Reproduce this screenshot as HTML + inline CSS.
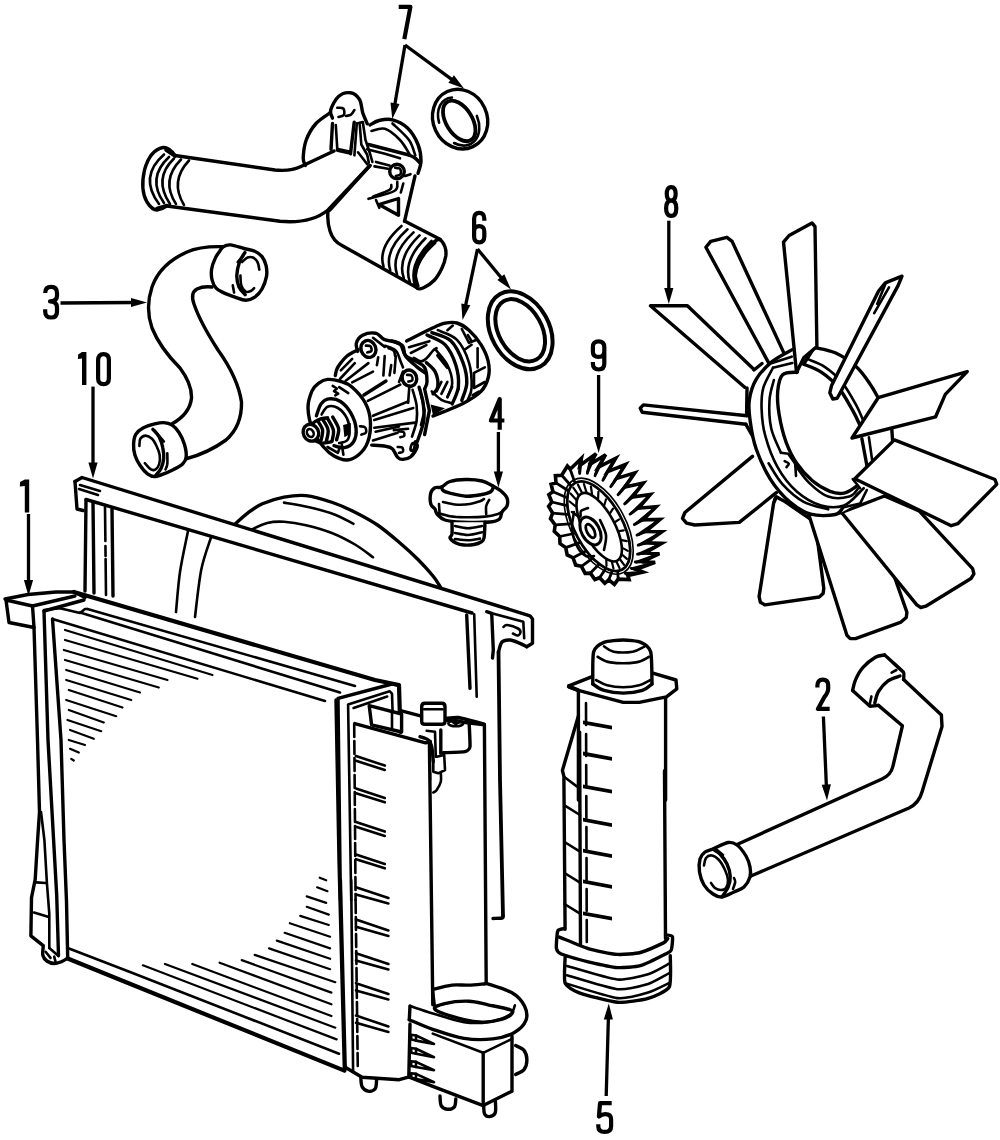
<!DOCTYPE html>
<html><head><meta charset="utf-8"><title>Cooling system diagram</title>
<style>
html,body{margin:0;padding:0;background:#fff;}
body{width:1000px;height:1140px;overflow:hidden;font-family:"Liberation Sans",sans-serif;}
svg{display:block;}
.o{fill:none;stroke:#000;stroke-width:3.4;stroke-linecap:round;stroke-linejoin:round;}
.t{fill:none;stroke:#000;stroke-width:2.6;stroke-linecap:round;stroke-linejoin:round;}
.w{fill:#fff;stroke:#000;stroke-width:3.4;stroke-linecap:round;stroke-linejoin:round;}
.wt{fill:#fff;stroke:#000;stroke-width:2.6;stroke-linecap:round;stroke-linejoin:round;}
.k{fill:#000;stroke:none;}
.h{fill:none;stroke:#000;stroke-width:2.2;stroke-linecap:round;}
.a{fill:none;stroke:#000;stroke-width:2.6;stroke-linecap:butt;}
.d{fill:none;stroke:#000;stroke-width:4.2;stroke-linecap:butt;stroke-linejoin:round;}
</style></head><body>
<svg width="1000" height="1140" viewBox="0 0 1000 1140">
<rect x="0" y="0" width="1000" height="1140" fill="#fff"/>
<!-- 05_frame10.svg -->
<g id="frame10">
<path class="o" d="M234.8,524.2 C237.0,522.3 243.4,516.2 248.0,512.8 C252.6,509.4 256.4,506.4 262.4,503.8 C268.4,501.2 276.7,498.6 284.0,497.2 C291.3,495.8 297.9,494.7 306.0,495.6 C314.1,496.5 324.3,499.7 332.5,502.5 C340.7,505.3 347.5,508.5 355.0,512.2 C362.5,516.0 370.0,519.9 377.5,525.0 C385.0,530.1 393.2,537.2 400.0,543.0 C406.8,548.8 412.5,554.0 418.0,559.5 C423.5,565.0 429.2,571.4 433.0,576.0 C436.8,580.6 439.2,585.4 440.5,587.2"/>
<path class="t" d="M251.6,529.6 C254.2,528.5 261.8,524.3 267.2,523.0 C272.6,521.7 277.5,521.4 284.0,521.8 C290.5,522.2 297.9,523.3 306.0,525.2 C314.1,527.1 324.3,530.0 332.5,533.2 C340.7,536.5 348.2,540.5 355.0,544.5 C361.8,548.5 370.0,555.1 373.0,557.2"/>
<path class="t" d="M284.0,502.6 C288.0,503.3 299.9,505.1 308.0,507.0 C316.1,508.9 324.9,510.9 332.5,513.8 C340.1,516.5 350.0,522.1 353.5,523.8"/>
<path class="t" d="M188.0,531.0 C186.7,537.8 182.0,558.5 180.0,572.0 C178.0,585.5 176.7,605.3 176.0,612.0"/>
<path class="t" d="M210.8,538.0 C209.2,543.3 203.8,556.8 201.2,570.0 C198.6,583.2 196.0,609.2 195.0,617.0"/>
<path class="o" d="M75.0,481.5 L82.0,477.5 L530.0,615.8 L532.5,619.0 L532.5,643.3 L526.7,646.7"/>
<path class="o" d="M75.0,481.5 L77.0,509.0 L83.0,510.5"/>
<path class="o" d="M86.0,499.5 L472.0,613.0"/>
<path class="t" d="M80.0,485.0 L100.0,491.0"/>
<path class="t" d="M79.0,489.0 L98.0,495.0"/>
<path class="o" d="M86.0,500.0 L85.0,591.0"/>
<path class="o" d="M93.0,502.0 L94.0,593.0"/>
<path class="t" stroke-dasharray="34 5 10 3 40 4" d="M105,507 L106,595"/>
<path class="o" d="M112.0,509.0 L113.0,596.0"/>
<path class="o" d="M486.7,611.7 L491.7,613.3 L493.3,650.0 L492.5,658.0"/>
<path class="t" d="M491.7,613.3 L523.3,621.7 L524.2,638.3"/>
<path class="o" d="M526.7,646.7 C525.6,646.1 522.8,644.4 520.0,643.3 C517.2,642.2 513.0,640.2 510.0,640.0 C507.0,639.8 503.9,640.0 502.0,642.0 C500.1,644.0 499.1,650.3 498.5,652.0"/>
<path class="t" d="M503.5,627.0 C504.1,626.7 504.6,624.8 507.0,625.0 C509.4,625.2 515.8,627.3 518.0,628.5 C520.2,629.7 520.5,630.8 520.5,632.0 C520.5,633.2 519.2,635.2 518.0,635.5 C516.8,635.8 513.8,633.8 513.0,633.5"/>
<path class="o" d="M466.7,615.0 L470.0,688.3"/>
<path class="t" d="M474.2,614.2 L476.7,696.7"/>
<path class="o" style="stroke-width:3.8" d="M498.5,652.0 L500.0,780.0 L503.0,916.0"/>
<path class="o" d="M503.0,916.0 C502.8,916.3 503.7,917.6 502.0,918.0 C500.3,918.4 494.5,918.4 493.0,918.5"/>
</g>

<!-- 10_part7.svg -->
<g id="p7">
<!-- left flange -->
<path class="o" d="M175,155.5 Q169,147 163,147.5 Q150,150 144.5,170 Q140,190 147,202 Q152,210 157,210 Q163,209 167,206"/>
<path class="t" d="M164,154.5 Q138.5,176.7 159,204"/>
<path class="t" d="M169,157 Q146.5,178 164,203"/>
<path class="t" d="M174,158.5 Q153,178.7 170,204"/>
<path class="t" d="M181,159.5 Q160.5,180.2 176,204"/>
<path class="t" d="M189,160.5 Q169.5,181.2 184,205"/>
<path class="o" style="stroke-width:3.6" d="M166,150 L175,156"/>
<path class="o" style="stroke-width:3.6" d="M157,208.5 L167,205.5"/>
<!-- pipe body -->
<path class="o" d="M175,155.5 L275,170 Q291,171.5 301,166.5 L334,151"/>
<path class="o" d="M167,206 L280,221.3 Q311,224 328,210 L370,165.5"/>
<!-- down pipe -->
<path class="o" d="M328,211 Q327,222 330,231 Q333,241 342,245.5 L418,288.2"/>
<path class="o" d="M404.5,221 L440.5,239.5"/>
<path class="o" d="M331.0,112.2 C328.5,114.1 320.1,118.9 316.0,123.5 C311.9,128.1 308.4,134.2 306.2,140.0 C304.1,145.8 303.4,153.8 303.2,158.0 C303.1,162.2 305.1,164.2 305.5,165.5"/>
<path class="w" d="M332.5,118.2 C332.2,116.9 329.7,113.6 330.7,110.0 C331.7,106.4 335.2,99.4 338.5,96.5 C341.8,93.6 347.0,92.2 350.5,92.8 C354.0,93.2 357.4,96.1 359.5,99.5 C361.6,102.9 361.5,109.0 362.8,113.0 C364.1,117.0 366.6,122.0 367.3,123.8"/>
<path class="t" d="M337.3,107.8 C338.3,107.9 342.2,107.3 343.3,108.5 C344.4,109.7 344.7,113.4 343.9,114.8 C343.1,116.2 339.4,116.6 338.5,116.9"/>
<path class="t" d="M346.0,116.0 C346.9,115.8 349.9,115.5 351.2,114.5 C352.6,113.5 353.9,110.8 354.4,110.0"/>
<path class="o" d="M332.5,123.5 L331.0,149.3"/>
<path class="t" d="M335.8,125.0 L337.3,149.3"/>
<path class="o" d="M354.2,122.3 L350.5,153.8"/>
<path class="t" d="M356.8,123.5 L354.4,155.3"/>
<path class="o" style="stroke-width:4.4" d="M337.8,149.9 L349.3,152.3"/>
<path class="t" d="M356.8,123.5 L362.8,122.0 L365.5,140.0 L370.0,153.5 L372.4,161.9"/>
<path class="t" d="M359.8,125.0 L361.3,144.5 L367.3,155.0 L368.8,162.8"/>
<path class="t" d="M358.0,152.3 L367.3,164.3"/>
<path class="o" d="M370.0,125.0 C371.5,124.2 375.2,121.4 379.0,120.5 C382.8,119.6 387.8,118.5 392.5,119.8 C397.2,121.0 403.2,123.9 407.5,128.0 C411.8,132.1 415.8,139.0 418.0,144.5 C420.2,150.0 421.0,156.2 421.0,161.0 C421.0,165.8 418.5,171.2 418.0,173.3"/>
<path class="t" d="M371.5,131.0 C373.8,130.6 380.2,127.2 385.0,128.8 C389.8,130.2 395.9,135.8 400.0,140.0 C404.1,144.2 407.8,151.5 409.3,153.8"/>
<path class="t" d="M392.5,123.5 C395.2,126.2 405.2,134.7 409.0,140.0 C412.8,145.3 414.2,152.8 415.3,155.3"/>
<path class="o" d="M368.5,144.5 L409.0,155.0"/>
<path class="o" d="M409.0,155.0 C410.0,155.5 413.2,156.7 415.0,158.0 C416.8,159.3 419.0,162.0 419.8,162.8"/>
<path class="t" d="M367.0,149.3 L385.0,153.8 L400.0,158.3"/>
<circle class="w" cx="397" cy="171.5" r="7.3"/>
<path class="t" d="M395.2,167.8 C396.0,167.9 399.1,167.7 400.0,168.8 C400.9,169.9 401.3,173.0 400.6,174.2 C399.9,175.4 396.6,175.7 395.8,176.0"/>
<path class="t" d="M376.0,161.9 L389.5,165.6"/>
<path class="t" d="M374.5,166.4 L388.0,168.8"/>
<path class="t" d="M405.2,176.0 L410.5,174.2"/>
<path class="o" d="M415.0,176.0 L404.5,221.3"/>
<path class="t" d="M397.3,182.0 C396.8,183.5 399.1,188.2 394.3,191.0 C389.5,193.8 372.8,197.5 368.5,198.8"/>
<path class="t" d="M391.3,185.0 C391.0,185.8 392.6,187.9 389.5,189.8 C386.4,191.7 375.8,195.4 373.0,196.6"/>
<path class="o" d="M398.5,198.5 L379.0,204.5 L398.5,215.3 Z"/>
<path class="t" d="M376.0,200.0 L379.3,207.8"/>
<path class="t" d="M403.3,183.5 L400.8,192.5"/>
<path class="o" d="M370.0,165.5 L329.8,210.2"/>
<!-- down pipe ribbed end -->
<path class="w" d="M439.0,239.5 C441.5,239.8 443.9,244.2 445.0,247.0 C446.1,249.8 446.2,252.5 445.8,256.0 C445.2,259.5 443.9,264.0 442.0,268.0 C440.1,272.0 437.5,276.8 434.5,280.0 C431.5,283.2 426.9,286.1 424.0,287.5 C421.1,288.9 418.8,289.5 417.2,288.2 C415.8,287.0 415.1,283.4 415.0,280.0 C414.9,276.6 415.2,272.2 416.5,268.0 C417.8,263.8 420.2,258.2 422.5,254.5 C424.8,250.8 427.2,248.0 430.0,245.5 C432.8,243.0 436.5,239.2 439.0,239.5 Z"/>
<path class="t" d="M435.2,242.8 C433.6,244.5 428.3,249.3 425.5,253.0 C422.7,256.7 419.9,261.2 418.3,265.0 C416.7,268.8 415.8,272.0 415.8,275.5 C415.8,279.0 417.9,284.2 418.3,286.0"/>
<path class="t" d="M401.5,226.0 Q377.5,247.0 383.5,266.5"/>
<path class="t" d="M407.5,229.3 Q383.9,250.5 390.2,270.2"/>
<path class="t" d="M413.5,232.4 Q390.2,254.1 397.0,274.3"/>
<path class="t" d="M419.5,235.4 Q396.6,257.6 403.8,278.2"/>
<path class="t" d="M425.5,238.3 Q402.6,260.8 409.8,281.8"/>
<path class="t" d="M431.5,241.0 Q408.2,263.9 415.0,285.2"/>
<!-- seal ring -->
<ellipse class="o" cx="460.1" cy="119.1" rx="27" ry="30.4" transform="rotate(-25 460.1 119.1)"/>
<ellipse class="o" style="stroke-width:3.8" cx="459.2" cy="120.9" rx="13" ry="22.5" transform="rotate(-32 459.2 120.9)"/>
<g transform="translate(458.5,121.5) rotate(-30)">
<path class="t" d="M-17.4,-8.7 A18.5,25.5 0 0 1 6.3,-24.0"/>
<path class="t" d="M18.7,4.4 A19.0,25.5 0 0 1 -14.6,16.4"/>
</g>
</g>

<!-- 20_hose3.svg -->
<g id="hose3">
<path class="o" d="M223.5,246.7 Q200,246 187,252 Q160,264 152,287 Q145,308 152,328 Q160,348 180,368 Q192,384 191.5,398 Q190,414 171,424.5"/>
<path class="o" d="M212,287 Q203,286 197,289 Q190,293 194,304 Q200,322 218,350 Q238,378 241.5,402 Q242,426 226,440 Q208,453 187,458.5"/>
<path class="w" d="M223.3,246.7 C225.1,245.6 227.1,244.6 230.5,244.9 C233.9,245.2 239.9,247.4 244.0,248.5 C248.1,249.6 251.8,249.8 254.8,251.2 C257.8,252.5 260.1,254.2 262.0,256.6 C263.9,259.0 265.3,262.3 266.1,265.6 C266.8,268.9 267.2,272.5 266.5,276.4 C265.8,280.3 263.9,285.6 262.0,289.0 C260.1,292.4 257.5,295.2 254.8,297.1 C252.1,299.0 249.1,300.2 245.8,300.2 C242.5,300.2 238.8,298.4 235.0,297.1 C231.2,295.8 226.5,294.1 223.3,292.6 C220.2,291.1 218.0,290.2 216.1,288.1 C214.2,286.0 212.8,283.1 212.1,280.0 C211.3,276.9 211.1,272.8 211.6,269.2 C212.1,265.6 213.8,261.4 215.2,258.4 C216.5,255.4 218.3,253.1 219.7,251.2 C221.0,249.2 221.5,247.8 223.3,246.7 Z"/>
<path class="o" d="M244.9,252.6 C244.0,254.1 240.8,258.2 239.5,262.0 C238.2,265.8 236.9,271.3 236.8,275.5 C236.7,279.7 237.7,284.0 239.1,287.2 C240.4,290.4 244.1,293.3 245.1,294.6"/>
<path class="t" d="M242.2,262.0 C243.1,261.2 245.8,258.2 247.6,257.5 C249.4,256.8 251.3,256.8 253.0,257.5 C254.7,258.2 256.4,260.0 257.5,262.0 C258.6,264.0 259.0,268.4 259.3,269.6"/>
<path class="t" d="M240.4,275.5 C240.6,277.1 240.4,282.7 241.3,285.4 C242.2,288.1 244.2,290.8 245.8,291.7 C247.5,292.6 249.8,291.4 251.2,290.8 C252.6,290.2 253.6,288.6 254.1,288.1"/>
<path class="t" d="M237.7,262.0 L243.1,255.9"/>
<path class="t" d="M232.8,285.4 L234.1,292.6"/>
<path class="w" d="M135.8,434.3 C137.4,431.6 139.8,429.7 143.0,428.0 C146.2,426.3 151.2,424.8 154.7,423.9 C158.1,423.1 160.8,422.5 163.7,422.6 C166.5,422.8 169.2,423.2 171.8,424.9 C174.4,426.5 176.9,429.3 179.0,432.5 C181.1,435.7 183.2,440.1 184.4,444.2 C185.6,448.2 186.5,453.5 186.2,456.8 C185.9,460.1 184.7,461.9 182.6,464.0 C180.5,466.1 176.8,467.8 173.6,469.4 C170.4,471.0 166.8,472.7 163.7,473.9 C160.5,475.1 157.4,476.6 154.7,476.6 C152.0,476.6 149.9,475.7 147.5,473.9 C145.1,472.1 142.4,468.9 140.3,465.8 C138.2,462.7 136.0,458.6 134.9,455.0 C133.8,451.4 133.4,447.6 133.6,444.2 C133.7,440.8 134.2,437.0 135.8,434.3 Z"/>
<path class="o" d="M152.9,429.4 C153.9,430.6 157.5,433.9 159.2,437.0 C160.8,440.1 162.1,444.2 162.8,447.8 C163.6,451.4 164.0,455.2 163.7,458.6 C163.4,462.1 162.3,465.7 161.0,468.5 C159.7,471.3 156.5,474.3 155.6,475.5"/>
<path class="t" d="M139.4,446.0 C139.6,444.8 139.2,440.5 140.3,438.8 C141.4,437.1 143.8,435.6 145.7,435.6 C147.6,435.6 150.2,437.1 152.0,438.8 C153.8,440.5 155.2,443.3 156.5,446.0 C157.8,448.7 159.2,452.0 159.7,455.0 C160.1,458.0 159.9,461.6 159.2,464.0 C158.5,466.4 156.9,468.5 155.6,469.4 C154.2,470.3 152.9,470.4 151.1,469.4 C149.3,468.3 145.9,464.2 144.8,463.1"/>
<path class="t" d="M154.7,430.7 L163.9,441.5"/>
<path class="t" d="M167.3,453.2 C167.3,455.0 167.6,461.3 167.3,464.0 C167.0,466.7 165.8,468.5 165.5,469.4"/>
</g>

<!-- 30_pump.svg -->
<g id="pump">
<path class="w" d="M327.5,379.4 C331.2,379.1 336.4,380.1 340.5,381.4 C344.6,382.7 348.1,383.6 352.2,387.2 C356.3,390.8 362.2,397.2 365.2,402.8 C368.2,408.4 370.0,414.5 370.4,421.0 C370.8,427.5 369.8,436.2 367.8,441.8 C365.9,447.4 362.2,451.8 358.7,454.8 C355.2,457.8 351.1,459.8 347.0,460.0 C342.9,460.2 337.9,458.3 334.0,456.1 C330.1,453.9 327.1,451.1 323.6,447.0 C320.1,442.9 315.8,437.9 313.2,431.4 C310.6,424.9 308.2,414.7 308.0,408.0 C307.8,401.3 310.2,395.2 311.9,391.1 C313.6,387.0 315.8,385.2 318.4,383.3 C321.0,381.4 323.8,379.7 327.5,379.4 Z"/>
<path class="o" d="M316.4,415.8 C317.2,413.9 318.9,406.9 321.0,404.1 C323.1,401.3 325.6,399.3 328.8,398.9 C332.1,398.5 336.8,399.1 340.5,401.5 C344.2,403.9 348.3,408.6 350.9,413.2 C353.5,417.8 355.7,424.0 356.1,428.8 C356.5,433.6 355.4,438.7 353.5,441.8 C351.6,444.9 347.6,447.0 344.4,447.6 C341.1,448.3 335.7,446.0 334.0,445.7"/>
<path class="t" d="M321.6,414.5 C322.6,413.2 324.8,407.8 327.5,406.7 C330.2,405.6 334.6,406.1 337.9,408.0 C341.1,409.9 345.1,414.5 347.0,418.4 C348.9,422.3 349.6,427.7 349.6,431.4 C349.6,435.1 348.7,438.6 347.0,440.5 C345.3,442.4 340.5,442.7 339.2,443.1"/>
<path class="w" d="M309.3,425.6 C310.8,424.6 315.4,421.0 318.4,419.7 C321.4,418.4 326.0,418.1 327.5,417.8"/>
<path class="o" d="M314.5,440.5 C315.8,440.9 319.5,442.9 322.3,443.1 C325.1,443.3 329.9,442.0 331.4,441.8"/>
<path class="o" d="M317.8,421.0 C318.6,422.5 322.0,426.9 322.6,430.1 C323.1,433.4 321.3,438.8 321.0,440.5"/>
<path class="o" d="M322.9,419.7 C323.8,421.4 327.6,426.4 328.1,430.1 C328.7,433.8 326.5,439.9 326.2,441.8"/>
<path class="o" d="M327.5,418.4 C328.5,420.3 332.6,426.3 333.4,430.1 C334.1,433.9 332.3,439.3 332.1,441.1"/>
<path class="o" d="M332.7,417.1 C333.7,419.1 337.9,425.0 338.6,428.8 C339.2,432.6 336.9,438.0 336.6,439.9"/>
<ellipse class="w" cx="310.9" cy="432.7" rx="7.6" ry="8.6" transform="rotate(-27.0 310.9 432.7)"/>
<ellipse class="t" cx="310.3" cy="433.0" rx="3.2" ry="4.2" transform="rotate(-27.0 310.3 433.0)"/>
<path class="k" d="M343.1,424.9 L350.9,422.9 L350.2,434.0 L344.4,437.2 Z"/>
<path class="t" d="M327.5,447.0 L337.9,452.9 L339.9,447.0"/>
<path class="t" d="M341.8,444.4 L343.4,454.8"/>
<path class="t" d="M332.7,385.9 L336.9,388.5 L334.0,391.1 L338.2,393.7 L335.3,395.3"/>
<path class="t" d="M339.2,387.2 L348.3,393.1"/>
<path class="t" d="M360.0,426.2 C360.9,426.4 364.2,426.4 365.2,427.5 C366.2,428.6 366.5,431.5 365.9,432.7 C365.2,433.9 362.1,434.3 361.3,434.6"/>
<path class="o" d="M335.3,375.5 C335.6,374.4 335.9,371.2 336.9,369.0 C337.8,366.8 339.5,364.7 341.1,362.5 C342.8,360.3 344.9,357.7 347.0,356.0 C349.1,354.3 351.7,353.1 353.5,352.1 C355.3,351.1 357.3,350.1 358.1,349.8"/>
<path class="t" d="M340.8,370.3 L352.2,358.9"/>
<path class="t" d="M339.9,379.0 L354.8,363.1"/>
<path class="t" d="M345.7,380.7 L368.4,363.1"/>
<path class="t" d="M352.2,382.3 L373.0,371.6"/>
<path class="o" style="stroke-width:3.4" d="M363.9,395.0 L386.0,381.0"/>
<path class="t" d="M367.8,400.9 L400.3,384.6"/>
<path class="t" d="M373.0,415.8 L408.1,401.5"/>
<path class="t" d="M374.3,420.0 L413.3,408.0"/>
<path class="t" d="M374.3,427.8 L415.2,422.6"/>
<path class="t" d="M375.6,431.7 L399.0,426.5"/>
<path class="t" d="M373.0,440.5 L397.7,432.7"/>
<path class="o" d="M371.7,445.1 C374.1,445.3 382.5,445.7 386.0,446.4 C389.5,447.0 390.6,447.1 392.5,448.9 C394.4,450.8 396.0,455.7 397.7,457.4 C399.4,459.1 400.7,459.5 402.9,459.4 C405.1,459.2 408.3,458.8 410.7,456.8 C413.1,454.7 416.4,449.5 417.2,447.0 C418.0,444.5 415.6,442.7 415.2,441.8"/>
<ellipse class="t" cx="412.6" cy="447.0" rx="1.8" ry="4.0" transform="rotate(15.0 412.6 447.0)"/>
<path class="t" d="M397.7,447.0 C398.5,447.1 401.4,446.9 402.2,447.6 C403.1,448.4 403.4,450.7 402.9,451.6 C402.4,452.4 399.6,452.6 399.0,452.9"/>
<path class="t" d="M399.0,431.4 C399.8,431.5 402.7,431.3 403.6,432.1 C404.4,432.8 404.7,435.1 404.2,435.9 C403.7,436.8 400.9,437.0 400.3,437.2"/>
<path class="t" d="M393.8,430.1 L408.1,428.8"/>
<path class="o" d="M357.7,351.4 C357.4,350.0 355.5,345.7 356.4,343.0 C357.2,340.3 359.4,336.8 362.6,335.2 C365.8,333.6 372.0,332.6 375.6,333.2 C379.2,333.9 381.0,338.0 384.1,339.4 C387.1,340.8 390.7,340.6 393.8,341.7 C396.9,342.8 400.9,343.9 402.9,346.2 C404.8,348.6 403.1,352.5 405.5,356.0 C407.9,359.5 413.7,364.1 417.2,367.1 C420.7,370.0 424.8,372.5 426.3,373.6"/>
<ellipse class="w" cx="368.4" cy="348.9" rx="7.4" ry="8.6" transform="rotate(-20.0 368.4 348.9)"/>
<path class="t" d="M365.9,345.6 C366.6,345.7 369.5,345.4 370.4,346.2 C371.3,347.1 372.0,349.8 371.4,350.8 C370.9,351.8 368.0,352.1 367.3,352.4"/>
<path class="t" d="M373.0,337.8 L384.7,346.9"/>
<path class="t" d="M384.7,356.0 L383.4,375.5"/>
<path class="t" d="M391.2,365.1 L389.6,375.5"/>
<path class="t" d="M395.8,356.0 L394.4,372.9"/>
<path class="t" d="M378.2,357.3 L376.9,365.1"/>
<path class="t" d="M388.6,348.2 C389.5,348.6 392.7,349.5 393.8,350.8 C394.9,352.1 394.9,355.1 395.1,356.0"/>
<ellipse class="w" cx="409.4" cy="378.1" rx="7.2" ry="8.2" transform="rotate(-20.0 409.4 378.1)"/>
<path class="t" d="M407.1,374.9 C407.8,375.0 410.5,374.6 411.4,375.5 C412.2,376.4 412.8,379.0 412.3,380.1 C411.8,381.1 409.0,381.4 408.4,381.6"/>
<path class="t" d="M402.9,371.6 L399.0,382.0"/>
<path class="o" d="M419.1,387.2 C419.8,389.8 422.3,397.2 423.1,402.8 C423.8,408.4 424.7,414.5 423.7,421.0 C422.7,427.5 418.3,438.3 417.2,441.8"/>
<path class="t" d="M412.6,389.8 C413.3,392.4 415.9,400.2 416.6,405.4 C417.2,410.6 417.3,415.8 416.6,421.0 C415.8,426.2 412.8,434.0 412.0,436.6"/>
<path class="t" d="M409.4,385.9 L408.1,402.8"/>
<path class="o" d="M406.6,341.0 C411.0,338.8 426.6,330.8 433.0,327.8 C439.4,324.8 441.0,324.0 445.0,323.2 C449.0,322.4 453.0,321.8 457.0,323.0 C461.0,324.2 465.0,326.6 469.0,330.2 C473.0,333.8 477.8,339.4 481.0,344.6 C484.2,349.8 487.0,356.0 488.2,361.4 C489.4,366.8 489.6,372.0 488.4,377.0 C487.2,382.0 485.2,387.0 481.0,391.4 C476.8,395.8 471.0,399.3 463.0,403.4 C455.0,407.5 438.0,413.9 433.0,416.0"/>
<path class="o" d="M431.8,332.6 C435.0,334.0 445.8,336.0 451.0,341.0 C456.2,346.0 460.4,355.6 463.0,362.6 C465.6,369.6 467.0,376.7 466.8,383.0 C466.6,389.3 462.6,397.5 461.8,400.4"/>
<path class="t" d="M437.8,330.2 C441.0,331.8 451.8,334.4 457.0,339.8 C462.2,345.2 466.6,354.6 469.0,362.6 C471.4,370.6 471.8,381.6 471.6,387.8 C471.4,394.0 468.4,397.8 467.8,399.8"/>
<path class="o" d="M427.0,335.0 C430.0,336.6 440.2,339.6 445.0,344.6 C449.8,349.6 453.6,358.0 455.8,365.0 C458.0,372.0 459.0,380.1 458.4,386.6 C457.8,393.1 453.2,401.1 452.2,404.0"/>
<path class="t" d="M435.4,349.4 C437.4,352.0 444.6,359.4 447.4,365.0 C450.2,370.6 452.2,377.7 452.2,383.0 C452.2,388.3 448.2,394.5 447.4,396.8"/>
<path class="t" d="M447.4,330.2 L452.8,325.6"/>
<path class="t" d="M461.8,329.0 L469.0,342.8 L476.8,339.8"/>
<path class="t" d="M464.2,350.0 L471.6,344.8"/>
<path class="t" d="M477.6,348.2 L477.6,367.4"/>
<path class="t" d="M474.0,372.8 L484.8,367.4"/>
<path class="t" d="M474.0,373.4 L474.0,388.0 L484.8,382.0"/>
<path class="t" d="M472.6,395.2 L478.8,391.6"/>
<path class="t" d="M467.8,335.0 L471.4,341.0"/>
<path class="t" d="M409.0,347.2 L429.4,341.2"/>
<path class="t" d="M410.8,353.0 L426.4,345.2"/>
<path class="t" d="M413.8,357.8 C415.0,358.4 418.8,361.4 421.0,361.4 C423.2,361.4 425.0,359.6 427.0,357.8 C429.0,356.0 431.4,352.2 433.0,350.6 C434.6,349.0 436.0,348.6 436.6,348.2"/>
<path class="o" d="M426.4,362.6 C427.9,364.2 433.5,368.2 435.4,372.2 C437.3,376.2 438.2,383.0 437.8,386.6 C437.4,390.2 433.8,392.6 433.0,393.8"/>
<path class="t" d="M431.8,391.4 C433.4,392.8 438.0,397.8 441.4,399.8 C444.8,401.8 450.4,402.8 452.2,403.4"/>
<path class="o" style="stroke-width:3.4" d="M437.8,355.4 L447.4,367.4"/>
<path class="t" d="M441.4,381.8 L436.6,391.4"/>
<path class="t" d="M447.4,381.8 L441.4,393.8"/>
<path class="t" d="M452.2,386.6 L447.4,397.4"/>
<path class="k" d="M430.6,404.6 L445.0,408.2 L433.0,415.4 Z"/>
<path class="t" d="M458.2,381.8 L458.8,389.0"/>
<path class="o" d="M392.2,341.0 C393.6,341.6 398.4,342.2 400.6,344.6 C402.8,347.0 402.8,352.6 405.4,355.4 C408.0,358.2 413.0,359.4 416.2,361.4 C419.4,363.4 422.8,364.0 424.6,367.4 C426.4,370.8 427.0,378.2 427.0,381.8 C427.0,385.4 425.0,387.8 424.6,389.0"/>
<path class="t" d="M385.0,345.8 C386.8,346.6 393.2,348.0 395.8,350.6 C398.4,353.2 399.4,358.6 400.6,361.4 C401.8,364.2 402.6,366.4 403.0,367.4"/>
<path class="o" d="M424.6,389.0 L429.4,410.6 L424.6,434.6"/>
<path class="t" d="M419.8,389.0 L424.6,410.6 L421.0,425.0"/>
</g>

<!-- 40_cap4.svg -->
<g id="cap4">
<path class="w" d="M441.5,487.0 C444.0,485.9 445.9,482.8 450.0,481.5 C454.1,480.2 460.7,479.6 466.0,479.5 C471.3,479.4 477.5,479.9 482.0,481.0 C486.5,482.1 489.8,484.3 493.0,486.0 C496.2,487.7 498.7,489.0 501.0,491.0 C503.3,493.0 506.0,495.5 507.0,498.0 C508.0,500.5 507.8,503.7 507.0,506.0 C506.2,508.3 503.2,509.8 502.0,512.0 C500.8,514.2 501.5,517.3 499.5,519.0 C497.5,520.7 496.2,521.5 490.0,522.0 C483.8,522.5 469.5,522.5 462.0,522.2 C454.5,521.9 449.2,521.4 445.0,520.0 C440.8,518.6 438.7,515.8 437.0,514.0 C435.3,512.2 436.0,510.7 435.0,509.0 C434.0,507.3 431.5,506.7 430.8,504.0 C430.1,501.3 430.1,495.7 430.8,493.0 C431.5,490.3 433.2,488.8 435.0,487.8 C436.8,486.8 439.0,488.1 441.5,487.0 Z"/>
<path class="o" d="M441.5,487.0 C441.8,487.6 441.6,489.5 443.0,490.5 C444.4,491.5 446.2,492.2 450.0,493.2 C453.8,494.1 460.7,496.0 466.0,496.2 C471.3,496.4 477.8,495.3 482.0,494.5 C486.2,493.7 489.1,492.8 491.0,491.5 C492.9,490.2 493.1,487.3 493.5,486.5"/>
<path class="t" d="M443.0,502.0 C445.0,502.4 450.5,504.2 455.0,504.5 C459.5,504.8 465.8,504.6 470.0,504.0 C474.2,503.4 477.7,502.0 480.0,501.2 C482.3,500.4 483.3,499.4 484.0,499.0"/>
<path class="t" d="M489.2,499.8 C488.7,500.8 486.7,503.6 486.2,506.0 C485.7,508.4 486.2,512.7 486.2,514.0"/>
<path class="t" d="M438.0,513.0 C440.0,513.5 445.5,515.5 450.0,516.2 C454.5,516.9 459.2,517.1 465.0,517.2 C470.8,517.3 479.5,517.1 485.0,516.6 C490.5,516.1 495.0,514.9 498.0,514.0 C501.0,513.1 502.2,511.5 503.0,511.0"/>
<path class="t" d="M439.0,504.0 L439.5,512.0"/>
<path class="w" d="M452.0,522.2 C452.0,524.2 452.3,531.4 452.0,534.0 C451.7,536.6 449.3,536.5 450.0,538.0 C450.7,539.5 453.7,541.8 456.0,543.0 C458.3,544.2 461.0,544.8 464.0,545.0 C467.0,545.2 471.2,545.0 474.0,544.5 C476.8,544.0 479.3,543.1 481.0,542.0 C482.7,540.9 483.3,541.3 484.0,538.0 C484.7,534.7 484.8,524.8 485.0,522.2"/>
<path class="t" d="M455.0,526.0 C457.2,526.4 463.5,528.2 468.0,528.2 C472.5,528.2 479.7,526.4 482.0,526.0"/>
<path class="t" d="M455.0,533.0 C457.2,533.3 463.5,535.1 468.0,535.0 C472.5,534.9 479.7,532.7 482.0,532.2"/>
<path class="t" d="M455.0,539.0 C457.2,539.2 463.8,540.3 468.0,540.2 C472.2,540.1 478.0,538.9 480.0,538.6"/>
</g>

<!-- 41_oring6.svg -->
<g id="oring6">
<g transform="translate(520.2,330.3) rotate(-29)"><ellipse class="o" style="stroke-width:4" rx="29" ry="41.5"/><ellipse class="o" style="stroke-width:4" rx="21.5" ry="33.5"/></g>
</g>

<!-- 50_clutch9.svg -->
<g id="clutch9">
<path class="w" style="stroke-width:3.6;stroke-linejoin:miter" d="M650.5,494.4 L638.4,508.2 L656.2,506.7 L642.8,519.9 L660.0,519.4 L645.5,531.6 L661.9,531.7 L646.2,542.8 L661.7,543.4 L645.1,553.0 L659.4,553.7 L642.0,561.9 L655.1,562.3 L636.3,569.4 L643.1,572.0 L627.9,575.5 L629.1,579.6 L618.2,579.2 L614.4,584.4 L608.7,579.9 L604.8,583.3 L599.6,577.7 L594.9,579.5 L590.4,573.1 L585.1,573.4 L581.4,566.3 L575.7,565.1 L573.0,557.7 L567.2,555.0 L565.7,547.6 L560.0,543.6 L559.7,536.5 L554.3,531.3 L555.2,524.9 L550.5,518.6 L552.6,513.2 L548.6,506.3 L551.8,502.0 L548.8,494.6 L553.0,491.7 L551.1,484.3 L556.0,482.9 L555.4,475.7 L561.7,475.3 L567.4,466.0 L570.2,469.2 L581.4,458.4 L579.9,465.5 L596.1,453.6 L589.3,464.8 L605.7,454.7 L598.4,467.1 L615.6,458.5 L607.6,471.7 L625.4,464.6 L616.6,478.4 L634.8,472.9 L625.0,487.0 L643.3,483.0 L632.3,497.1 Z"/>
<path class="t" style="stroke-width:2.8" d="M630.1,514.1 L638.4,508.2"/>
<path class="t" style="stroke-width:2.8" d="M631.6,513.0 L648.7,496.5"/>
<path class="t" style="stroke-width:2.8" d="M634.3,524.6 L642.8,519.9"/>
<path class="t" style="stroke-width:2.8" d="M635.8,523.8 L654.2,508.7"/>
<path class="t" style="stroke-width:2.8" d="M637.0,535.1 L645.5,531.6"/>
<path class="t" style="stroke-width:2.8" d="M638.5,534.5 L657.8,521.2"/>
<path class="t" style="stroke-width:2.8" d="M638.1,545.2 L646.2,542.8"/>
<path class="t" style="stroke-width:2.8" d="M639.6,544.7 L659.5,533.4"/>
<path class="t" style="stroke-width:2.8" d="M637.5,554.2 L645.1,553.0"/>
<path class="t" style="stroke-width:2.8" d="M638.9,554.0 L659.2,544.8"/>
<path class="t" style="stroke-width:2.8" d="M635.3,562.0 L642.0,561.9"/>
<path class="t" style="stroke-width:2.8" d="M636.6,562.0 L656.8,554.9"/>
<path class="t" style="stroke-width:2.8" d="M631.2,568.3 L636.3,569.4"/>
<path class="t" style="stroke-width:2.8" d="M632.1,568.5 L652.3,563.4"/>
<path class="t" style="stroke-width:2.8" d="M625.2,572.9 L627.9,575.5"/>
<path class="t" style="stroke-width:2.8" d="M625.6,573.4 L640.8,572.5"/>
<path class="t" style="stroke-width:2.8" d="M617.8,572.4 L618.2,579.2"/>
<path class="t" style="stroke-width:2.8" d="M611.8,571.9 L608.7,579.9"/>
<path class="t" style="stroke-width:2.8" d="M605.2,569.4 L599.6,577.7"/>
<path class="t" style="stroke-width:2.8" d="M598.4,565.0 L590.4,573.1"/>
<path class="t" style="stroke-width:2.8" d="M591.6,559.0 L581.4,566.3"/>
<path class="t" style="stroke-width:2.8" d="M585.0,551.5 L573.0,557.7"/>
<path class="t" style="stroke-width:2.8" d="M579.1,542.9 L565.7,547.6"/>
<path class="t" style="stroke-width:2.8" d="M574.1,533.5 L559.7,536.5"/>
<path class="t" style="stroke-width:2.8" d="M570.1,523.9 L555.2,524.9"/>
<path class="t" style="stroke-width:2.8" d="M567.3,514.3 L552.6,513.2"/>
<path class="t" style="stroke-width:2.8" d="M566.0,505.3 L551.8,502.0"/>
<path class="t" style="stroke-width:2.8" d="M566.0,497.2 L553.0,491.7"/>
<path class="t" style="stroke-width:2.8" d="M567.5,490.3 L556.0,482.9"/>
<path class="t" style="stroke-width:2.8" d="M570.4,485.0 L561.7,475.3"/>
<path class="t" style="stroke-width:2.8" d="M574.5,481.6 L570.2,469.2"/>
<path class="t" style="stroke-width:2.8" d="M579.7,473.5 L579.9,465.5"/>
<path class="t" style="stroke-width:2.8" d="M579.7,472.0 L581.2,459.5"/>
<path class="t" style="stroke-width:2.8" d="M587.3,473.4 L589.3,464.8"/>
<path class="t" style="stroke-width:2.8" d="M587.6,471.9 L595.1,455.3"/>
<path class="t" style="stroke-width:2.8" d="M595.0,475.8 L598.4,467.1"/>
<path class="t" style="stroke-width:2.8" d="M595.6,474.2 L604.6,456.6"/>
<path class="t" style="stroke-width:2.8" d="M602.9,480.3 L607.6,471.7"/>
<path class="t" style="stroke-width:2.8" d="M603.7,478.7 L614.4,460.4"/>
<path class="t" style="stroke-width:2.8" d="M610.7,486.7 L616.6,478.4"/>
<path class="t" style="stroke-width:2.8" d="M611.8,485.2 L624.1,466.7"/>
<path class="t" style="stroke-width:2.8" d="M618.0,494.7 L625.0,487.0"/>
<path class="t" style="stroke-width:2.8" d="M619.3,493.3 L633.3,475.0"/>
<path class="t" style="stroke-width:2.8" d="M624.6,503.9 L632.3,497.1"/>
<path class="t" style="stroke-width:2.8" d="M626.0,502.7 L641.7,485.1"/>
<ellipse class="w" style="stroke-width:2.8" cx="598.7" cy="526.2" rx="23.8" ry="49.3" transform="rotate(-28.5 598.7 526.2)"/>
<ellipse class="t" style="stroke-width:1.6" cx="598.7" cy="526.2" rx="27.0" ry="52.5" transform="rotate(-28.5 598.7 526.2)"/>
<ellipse class="t" cx="599.2" cy="527.2" rx="15.5" ry="38.0" transform="rotate(-28.5 599.2 527.2)"/>
<path class="t" style="stroke-width:2.2" d="M615.1,522.0 L619.1,519.3"/>
<path class="t" style="stroke-width:2.2" d="M619.1,531.2 L623.8,530.3"/>
<path class="t" style="stroke-width:2.2" d="M621.7,540.1 L626.8,541.1"/>
<path class="t" style="stroke-width:2.2" d="M622.8,548.1 L627.8,550.9"/>
<path class="t" style="stroke-width:2.2" d="M622.2,554.7 L626.9,558.9"/>
<path class="t" style="stroke-width:2.2" d="M620.1,559.5 L624.1,564.8"/>
<path class="t" style="stroke-width:2.2" d="M616.6,562.0 L619.5,568.0"/>
<path class="t" style="stroke-width:2.2" d="M611.9,562.1 L613.5,568.4"/>
<path class="t" style="stroke-width:2.2" d="M606.3,559.9 L606.5,565.9"/>
<path class="t" style="stroke-width:2.2" d="M575.6,506.3 L569.6,501.5"/>
<path class="t" style="stroke-width:2.2" d="M576.2,499.7 L570.5,493.5"/>
<path class="t" style="stroke-width:2.2" d="M578.3,494.9 L573.3,487.6"/>
<path class="t" style="stroke-width:2.2" d="M581.8,492.4 L577.9,484.4"/>
<path class="t" style="stroke-width:2.2" d="M586.5,492.3 L583.9,484.0"/>
<path class="t" style="stroke-width:2.2" d="M592.1,494.5 L590.9,486.5"/>
<path class="t" style="stroke-width:2.2" d="M598.1,499.0 L598.4,491.8"/>
<path class="t" style="stroke-width:2.2" d="M604.3,505.3 L606.0,499.3"/>
<path class="t" style="stroke-width:2.2" d="M610.1,513.2 L613.0,508.7"/>
<ellipse class="w" style="stroke-width:3" cx="590.5" cy="531.0" rx="9.0" ry="15.0" transform="rotate(-28.5 590.5 531.0)"/>
<ellipse class="o" style="stroke-width:2.8" cx="590.5" cy="531.0" rx="3.6" ry="7.5" transform="rotate(-28.5 590.5 531.0)"/>
<path class="t" d="M572.0,512.0 C573.3,512.8 578.5,517.2 580.0,517.0 C581.5,516.8 579.7,512.5 581.0,511.0 C582.3,509.5 586.8,508.5 588.0,508.0"/>
<path class="t" d="M574.0,512.0 C573.7,515.0 571.3,524.0 572.0,530.0 C572.7,536.0 575.7,543.7 578.0,548.0 C580.3,552.3 583.3,554.7 586.0,556.0 C588.7,557.3 592.7,556.0 594.0,556.0"/>
<path class="t" d="M600.0,520.0 C601.0,522.5 605.3,530.0 606.0,535.0 C606.7,540.0 604.3,547.5 604.0,550.0"/>
</g>

<!-- 60_fan8.svg -->
<g id="fan8">
<path class="o" d="M783.9,503.3 C782.6,502.2 778.0,496.8 776.3,497.0 C774.6,497.2 774.1,503.0 773.6,504.2"/>
<path class="w" d="M783.9,500.9 L776.3,497.0 L773.6,503.3 L759.1,596.6 L760.4,602.3 L765.0,604.9 L819.2,597.0 L823.1,593.4 L823.8,588.4 L815.2,522.4 Z"/>
<path class="w" d="M808.6,514.1 L846.9,635.3 L850.2,638.6 L855.5,638.6 L901.0,622.1 L906.3,617.4 L906.9,612.2 L881.2,538.9 L841.6,512.5 Z"/>
<path class="w" d="M841.6,512.5 L916.8,604.9 L920.8,607.5 L925.8,606.2 L971.0,578.5 L973.9,573.9 L972.6,568.6 L919.1,510.9 L884.5,496.0 Z"/>
<path class="w" style="stroke:none" d="M791.4,350.2 C784.4,352.5 777.9,356.7 772.1,361.6 C766.2,366.4 760.1,372.7 756.3,379.1 C752.5,385.5 750.3,393.1 749.3,400.2 C748.3,407.2 749.0,413.0 750.2,421.2 C751.3,429.4 752.9,439.6 756.3,449.3 C759.7,458.9 764.8,470.3 770.3,479.1 C775.9,487.9 782.9,496.0 789.6,501.9 C796.4,507.7 803.1,512.1 810.7,514.2 C818.3,516.2 828.2,515.6 835.2,514.2 C842.3,512.7 847.5,509.5 852.8,505.4 C858.0,501.3 863.9,496.6 866.8,489.6 C869.7,482.6 870.0,472.1 870.3,463.3 C870.6,454.5 867.4,448.1 868.6,437.0 C869.7,425.9 877.0,405.4 877.3,396.7 C877.6,387.9 873.8,389.3 870.3,384.4 C866.8,379.4 862.1,372.1 856.3,366.8 C850.4,361.6 842.3,356.0 835.2,352.8 C828.2,349.6 821.5,348.0 814.2,347.5 C806.9,347.1 798.4,347.8 791.4,350.2 Z"/>
<path class="o" d="M792.3,349.6 C788.9,351.6 778.1,356.7 772.1,361.6 C766.1,366.5 760.1,372.7 756.3,379.1 C752.5,385.5 750.3,393.1 749.3,400.2 C748.3,407.2 749.0,413.0 750.2,421.2 C751.3,429.4 752.9,439.6 756.3,449.3 C759.7,458.9 764.8,470.3 770.3,479.1 C775.9,487.9 782.9,496.0 789.6,501.9 C796.4,507.7 803.1,512.1 810.7,514.2 C818.3,516.3 829.8,515.7 835.2,514.5 C840.6,513.4 841.8,508.4 843.1,507.2"/>
<path class="t" d="M773.0,367.7 C771.4,371.1 765.2,381.0 763.3,387.9 C761.4,394.8 761.3,401.0 761.6,408.9 C761.9,416.8 762.4,425.6 765.1,435.2 C767.7,444.9 772.1,457.5 777.4,466.8 C782.6,476.2 789.3,484.9 796.7,491.4 C804.0,497.8 813.3,503.1 821.2,505.4 C829.1,507.7 837.6,507.6 844.0,505.4 C850.4,503.2 857.2,494.4 859.8,492.2"/>
<path class="o" d="M797.5,372.1 C795.0,372.5 785.9,371.5 782.6,374.7 C779.3,377.9 778.3,384.8 777.7,391.4 C777.1,398.0 777.7,405.7 779.1,414.2 C780.5,422.7 783.2,434.1 786.1,442.3 C789.1,450.4 792.3,456.9 796.7,463.3 C801.0,469.7 806.9,476.2 812.4,480.8 C818.0,485.5 824.7,489.3 830.0,491.4 C835.2,493.4 839.6,493.9 844.0,493.1 C848.4,492.3 854.2,487.6 856.3,486.5"/>
<path class="t" d="M773.9,380.0 C773.1,383.4 769.9,392.1 769.5,400.2 C769.0,408.2 769.3,419.5 771.2,428.2 C773.1,437.0 779.3,448.7 780.9,452.8"/>
<path class="t" d="M780.9,452.8 L788.2,453.8 L795.2,463.7 L796.0,475.9"/>
<path class="t" d="M795.2,465.1 C797.5,468.0 803.4,477.3 808.9,482.6 C814.4,487.9 821.5,494.3 828.2,496.6 C834.9,499.0 844.3,497.9 849.3,496.6 C854.2,495.3 856.6,490.1 858.0,488.7"/>
<path class="t" d="M784.7,461.2 C785.4,461.6 788.5,462.7 788.8,463.7 C789.1,464.6 786.9,466.6 786.5,467.2"/>
<path class="t" d="M768.6,463.3 C770.9,466.8 776.8,477.9 782.6,484.4 C788.5,490.8 796.1,497.7 803.7,501.9 C811.3,506.0 824.1,508.0 828.2,509.3"/>
<path class="o" d="M803.7,364.2 C806.6,365.5 815.4,368.1 821.2,372.1 C827.1,376.0 833.5,381.5 838.7,387.9 C844.0,394.3 849.2,404.4 852.8,410.7 C856.3,417.0 858.9,423.1 860.1,425.6"/>
<path class="t" d="M807.2,358.9 C810.1,360.3 818.9,362.9 824.7,366.8 C830.6,370.8 837.0,376.2 842.3,382.6 C847.5,389.1 852.7,398.9 856.3,405.4 C859.9,411.9 862.4,418.9 863.7,421.6"/>
<path class="o" d="M814.2,347.5 C817.7,348.4 828.2,349.6 835.2,352.8 C842.3,356.0 850.4,361.6 856.3,366.8 C862.1,372.1 866.8,379.3 870.3,384.4 C873.9,389.4 876.5,394.9 877.7,397.0"/>
<path class="o" d="M803.7,364.2 L814.2,347.5"/>
<path class="t" d="M772.1,363.0 L791.7,356.7"/>
<path class="t" d="M773.0,367.7 L792.3,363.0"/>
<path class="o" d="M861.9,438.7 L867.2,467.2"/>
<path class="t" d="M868.9,437.3 L872.4,461.9"/>
<path class="t" d="M852.8,479.1 L860.1,488.2"/>
<path class="t" d="M866.8,490.0 L860.1,503.6 L842.6,507.5"/>
<path class="t" d="M856.3,495.2 L863.7,488.2"/>
<path class="o" d="M744.7,387.2 L650.4,305.8 L687.4,305.8 L754.0,369.4"/>
<path class="o" d="M768.8,363.1 L705.9,247.3 L710.7,241.4 L726.9,237.3 L732.1,241.4 L783.5,352.1"/>
<path class="w" d="M796.5,372.4 L783.5,242.2 L789.1,235.5 L812.0,222.9 L815.0,226.6 L816.9,346.5 L803.9,357.6 Z"/>
<path class="w" d="M832.8,399.0 L829.8,392.8 L831.6,385.4 L878.6,291.0 L885.3,282.9 L902.0,276.2 L898.2,285.4 L837.2,398.3 Z"/>
<path class="t" d="M885.3,284.3 L877.2,303.9"/>
<path class="t" d="M889.0,287.3 L874.2,313.2"/>
<path class="w" d="M852.0,438.0 L878.2,397.7 L967.2,371.6 L945.3,394.4 L935.6,416.8 Z"/>
<path class="o" d="M891.8,429.0 L892.6,441.0"/>
<path class="o" d="M747.1,415.8 L643.4,404.9 L640.2,408.1 L642.2,412.2 L745.9,424.3"/>
<path class="o" d="M752.5,456.4 L684.9,512.5 L682.5,518.4 L686.5,523.1 L694.8,525.0 L739.3,522.4 L776.3,492.7"/>
<path class="w" d="M854.8,478.8 L894.4,439.9 L995.0,479.5 L996.7,484.4 L957.8,523.7 L951.2,525.7 Z"/>
<path class="o" d="M747.0,388.0 L746.6,415.5"/>
<path class="o" d="M754.0,370.0 L762.0,363.5"/>
<path class="o" d="M745.9,424.3 L752.5,436.0"/>
</g>

<!-- 70_hose2.svg -->
<g id="hose2">
<path class="o" d="M737,844.5 L882,779 Q891,775 893,766 L902.4,725.8 L878.4,705.4"/>
<path class="o" d="M751,876 L909,808 Q919,803 922,792 L942,726.4 L941.4,715 L903.6,679.6"/>
<path class="o" d="M903.6,679.6 C903.6,679.4 904.2,673.2 903.6,672.4 C903.0,671.6 885.3,655.6 884.6,655.0"/>
<path class="o" d="M884.6,655.0 C883.1,655.4 879.0,655.1 875.4,657.2 C871.8,659.3 866.1,663.9 862.8,667.6 C859.5,671.3 857.3,675.8 855.6,679.6 C853.9,683.4 853.1,688.6 852.6,690.4"/>
<path class="o" d="M852.6,690.4 L870.0,706.2 L878.6,705.4"/>
<path class="o" d="M900.0,676.0 C898.0,676.8 891.6,678.2 888.0,680.8 C884.4,683.4 880.6,687.9 878.4,691.6 C876.2,695.3 875.4,701.1 874.8,703.0"/>
<path class="t" d="M871.4,696.4 L869.6,704.8"/>
<path class="t" d="M891.6,672.6 L896.4,670.0"/>
<path class="w" d="M713.0,849.0 C716.8,847.4 724.0,843.2 728.0,842.5 C732.0,841.8 734.0,842.8 737.0,845.0 C740.0,847.2 743.8,852.3 746.0,856.0 C748.2,859.7 749.3,863.5 750.0,867.0 C750.7,870.5 751.0,873.7 750.0,877.0 C749.0,880.3 746.7,884.5 744.0,887.0 C741.3,889.5 737.7,890.3 734.0,892.0 C730.3,893.7 725.5,896.7 722.0,897.0 C718.5,897.3 716.0,896.0 713.0,894.0 C710.0,892.0 706.2,888.7 704.0,885.0 C701.8,881.3 700.2,876.3 699.5,872.0 C698.8,867.7 699.1,862.3 700.0,859.0 C700.9,855.7 702.8,853.7 705.0,852.0 C707.2,850.3 709.2,850.6 713.0,849.0 Z"/>
<path class="o" d="M713.0,849.2 C714.2,850.0 717.7,851.5 720.0,854.0 C722.3,856.5 725.3,860.3 727.0,864.0 C728.7,867.7 730.0,872.2 730.2,876.0 C730.4,879.8 729.5,883.6 728.2,887.0 C726.9,890.4 723.2,894.9 722.2,896.5"/>
<path class="t" d="M704.0,865.5 C704.3,864.2 704.7,859.7 706.0,858.0 C707.3,856.3 709.8,855.2 712.0,855.5 C714.2,855.8 716.8,857.6 719.0,860.0 C721.2,862.4 723.5,866.7 725.0,870.0 C726.5,873.3 727.8,877.0 728.0,880.0 C728.2,883.0 727.2,886.3 726.0,888.0 C724.8,889.7 722.8,890.0 721.0,890.0 C719.2,890.0 716.7,889.2 715.0,888.0 C713.3,886.8 711.7,883.8 711.0,883.0"/>
<path class="t" d="M717.0,850.0 L723.0,855.0"/>
<path class="t" d="M734.0,878.0 C734.2,878.7 735.4,880.2 735.2,882.0 C735.0,883.8 733.4,887.8 733.0,889.0"/>
</g>

<!-- 71_tank5.svg -->
<g id="tank5">
<path class="o" d="M568.8,685.9 L592.8,676.3"/>
<path class="o" d="M652.0,672.8 L676.0,680.0 L676.8,688.8 L666.4,696.8 L639.2,702.4 L623.2,702.4 L578.4,690.4 L568.8,686.9"/>
<path class="o" style="stroke-width:4" d="M568.8,686.4 L578.4,690.4"/>
<path class="w" d="M592.8,684.0 C592.9,680.3 592.3,656.9 593.6,652.0 C594.9,647.1 600.5,643.8 604.0,642.4 C607.5,641.0 618.9,640.0 623.2,640.0 C627.5,640.0 637.6,641.0 640.8,642.4 C644.0,643.8 649.4,647.1 650.7,652.0 C652.0,656.9 651.9,680.3 652.0,684.0"/>
<path class="t" d="M604.0,646.4 C605.6,647.3 608.8,650.8 613.6,651.7 C618.4,652.6 627.7,652.5 632.8,651.7 C637.9,650.9 642.1,647.7 644.0,646.9"/>
<path class="t" d="M597.6,656.8 C599.7,657.7 604.0,661.5 610.4,662.4 C616.8,663.3 629.5,663.3 636.0,662.4 C642.5,661.5 646.9,657.7 649.1,656.8"/>
<path class="o" d="M592.8,684.0 C594.7,685.1 598.9,688.9 604.0,690.4 C609.1,691.9 616.8,693.1 623.2,693.1 C629.6,693.1 637.6,691.9 642.4,690.4 C647.2,688.9 650.4,685.1 652.0,684.0"/>
<path class="t" d="M596.0,680.0 C597.9,680.9 602.7,684.1 607.2,685.3 C611.7,686.5 617.9,687.2 623.2,687.2 C628.5,687.2 634.7,686.5 639.2,685.3 C643.7,684.1 648.5,680.9 650.4,680.0"/>
<path class="o" d="M578.4,690.4 L578.4,800.0"/>
<path class="o" d="M665.6,698.4 L665.6,800.0"/>
<path class="o" d="M578.4,716.0 L562.4,770.4 L564.0,776.8"/>
<path class="t" d="M564.0,776.8 L576.8,786.4"/>
<path class="o" d="M563.9,778.4 L565.1,929.3"/>
<path class="o" d="M579.6,732.1 L580.5,944.4"/>
<path class="o" d="M664.5,770.7 L665.5,938.6"/>
<path class="t" stroke-dasharray="22 9" d="M586,703 L586.8,944"/>
<path class="k" d="M583,720.4 L612,725.8 L612,729.6 L583,724.2 Z"/>
<path class="k" d="M583,751.6 L612,757.0 L612,760.8 L583,755.4 Z"/>
<path class="k" d="M583,784.4 L612,789.8 L612,793.6 L583,788.2 Z"/>
<path class="k" d="M583,817.8 L612,823.2 L612,827.0 L583,821.6 Z"/>
<path class="k" d="M583,848.8 L612,854.2 L612,858.0 L583,852.6 Z"/>
<path class="k" d="M583,879.5 L612,884.9 L612,888.7 L583,883.3 Z"/>
<path class="k" d="M583,911.4 L612,916.8 L612,920.6 L583,915.2 Z"/>
<path class="t" d="M564.5,805.4 L580,815.0"/>
<path class="t" d="M564.5,842.0 L580,851.6"/>
<path class="t" d="M564.5,873.0 L580,882.6"/>
<path class="t" d="M564.5,904.0 L580,913.6"/>
<path class="o" d="M564.1,928.6 C563.5,928.8 558.5,928.9 557.8,930.9 C557.0,932.9 556.1,945.9 556.4,948.3 C556.8,950.6 558.0,952.7 561.2,954.0 C564.4,955.4 582.7,960.4 588.2,961.8 C593.8,963.1 612.0,967.2 617.2,967.6 C622.4,967.9 635.5,967.0 640.4,965.6 C645.2,964.3 662.4,955.6 665.5,954.0 C668.5,952.5 670.5,951.9 671.2,950.2 C671.9,948.5 673.0,938.2 672.4,936.7 C671.8,935.1 666.1,934.9 665.5,934.8"/>
<path class="o" d="M559.3,937.1 C562.2,938.2 582.5,946.9 588.2,948.6 C594.0,950.4 612.0,954.1 617.2,954.4 C622.4,954.8 635.7,953.7 640.4,952.5 C645.0,951.3 660.8,944.2 663.5,942.9 C666.3,941.5 667.3,939.0 667.8,938.6"/>
<path class="o" d="M565.1,957.5 C565.1,960.1 563.7,979.5 565.1,983.0 C566.4,986.5 573.4,990.7 578.6,992.6 C583.8,994.6 610.3,1001.7 617.2,1002.3 C624.1,1002.9 642.9,1000.0 648.1,998.4 C653.3,996.9 667.1,991.1 669.3,986.9 C671.5,982.6 670.2,958.7 670.3,955.6"/>
<path class="t" d="M567.0,966.0 C572.0,967.4 609.1,978.7 617.2,979.5 C625.3,980.4 642.9,975.9 648.1,974.3 C653.3,972.7 666.8,964.8 668.9,963.7"/>
<path class="t" d="M567.0,975.3 C572.0,976.7 609.1,988.3 617.2,989.2 C625.3,990.0 642.9,985.5 648.1,984.0 C653.3,982.4 666.8,974.4 668.9,973.4"/>
<path class="t" d="M566.1,983.4 C571.2,984.9 609.0,997.1 617.2,998.1 C625.4,999.0 642.9,994.2 648.1,992.6 C653.3,991.1 667.2,984.0 669.3,983.0"/>
</g>

<!-- 80_radiator1.svg -->
<g id="radiator1">
<path class="k" style="fill:#fff" d="M6.0,600.0 L30.0,595.0 L74.0,592.0 L400.0,685.5 L400.0,732.0 L430.0,742.0 L432.0,1004.0 L486.0,983.0 L528.0,1010.0 L514.0,1100.0 L440.0,1108.0 L345.0,1071.0 L69.0,959.0 L45.0,960.0 L31.0,935.0 L31.0,890.0 L40.0,812.0 L33.0,627.0 L9.0,622.0 Z"/>
<path class="o" d="M5.0,599.0 L28.0,594.5 L56.0,592.0 L74.0,592.0 L85.0,597.5"/>
<path class="o" d="M6.0,600.0 L32.5,606.0 L34.0,627.5 L9.0,622.5 Z"/>
<path class="o" d="M32.5,606.0 L75.0,596.0"/>
<path class="o" d="M44.0,611.0 L84.0,600.0"/>
<path class="t" d="M44.0,610.0 L60.0,608.2 L80.0,613.0 L85.0,609.0 L87.5,609.0"/>
<path class="o" style="stroke-width:4.2" d="M74.0,592.0 L375.0,680.0 L399.0,685.0 L400.4,732.0"/>
<path class="t" d="M87.5,609.0 L355.0,686.0"/>
<path class="t" d="M80.0,612.5 L340.0,692.5"/>
<path class="t" d="M52.5,619.0 L325.0,701.0"/>
<path class="o" d="M34.0,627.5 L37.5,740.0 L39.5,812.0 L37.6,840.0 L35.2,879.3 L31.5,897.7 L30.9,935.8 L43.2,945.6"/>
<path class="t" d="M41.0,812.0 L44.4,840.0 L46.9,883.0 L49.3,913.7 L49.3,948.0"/>
<path class="o" d="M44.0,611.0 L48.0,740.0 L53.6,840.0 L56.7,895.3 L58.5,955.5"/>
<path class="o" d="M52.5,619.0 L61.0,740.0 L64.0,840.0 L66.5,901.4 L67.7,958.0"/>
<path class="t" d="M36.4,882.4 L45.6,883.0"/>
<path class="t" d="M34.0,912.5 L48.0,916.8"/>
<path class="o" d="M43.2,946.9 C43.1,948.3 42.3,953.1 42.9,955.5 C43.5,957.8 45.0,959.7 46.9,961.0 C48.7,962.3 51.8,963.4 54.2,963.5 C56.7,963.6 59.4,962.4 61.6,961.6 C63.7,960.8 66.2,959.1 67.1,958.6"/>
<path class="t" d="M45.6,951.8 L50.5,957.9"/>
<path class="t" d="M54.2,956.7 L55.5,961.6"/>
<path class="t" d="M49.3,948.1 L58.5,956.1"/>
<path class="t" d="M67.7,948.0 L130.0,972.0 L339.0,1053.7"/>
<path class="o" style="stroke-width:4.2" d="M67.7,958.5 L120.6,980.0 L344.4,1070.6"/>
<path class="o" d="M336.0,700.0 L339.0,860.0 L344.4,1070.6"/>
<path class="h" d="M65.0,630.0 L212.5,675.0"/>
<path class="h" d="M65.0,640.0 L197.5,678.8"/>
<path class="h" d="M63.8,650.0 L167.5,680.0"/>
<path class="h" d="M65.0,660.0 L158.8,687.5"/>
<path class="h" d="M66.2,670.0 L140.0,692.5"/>
<path class="h" d="M66.2,680.0 L131.2,700.0"/>
<path class="h" d="M68.8,690.0 L122.5,707.5"/>
<path class="h" d="M66.2,700.0 L116.2,716.2"/>
<path class="h" d="M68.8,710.0 L103.8,722.5"/>
<path class="h" d="M67.5,720.0 L101.2,731.2"/>
<path class="h" d="M70.0,730.0 L93.8,738.8"/>
<path class="h" d="M68.8,740.0 L85.0,745.0"/>
<path class="h" d="M70.0,748.8 L78.8,752.5"/>
<path class="h" d="M71.2,758.8 L73.8,760.5"/>
<path class="h" d="M319.7,877.7 L326.2,880.3"/>
<path class="h" d="M317.1,887.3 L327.5,891.2"/>
<path class="h" d="M306.7,896.4 L326.2,902.9"/>
<path class="h" d="M306.7,906.8 L328.8,914.6"/>
<path class="h" d="M300.2,915.9 L328.8,925.0"/>
<path class="h" d="M289.8,923.2 L330.1,936.7"/>
<path class="h" d="M284.6,932.8 L330.1,948.4"/>
<path class="h" d="M276.8,940.6 L330.1,958.8"/>
<path class="h" d="M269.0,948.4 L330.1,969.2"/>
<path class="h" d="M254.7,954.9 L335.3,982.2"/>
<path class="h" d="M241.7,960.1 L331.4,992.6"/>
<path class="h" d="M219.6,962.7 L331.4,1004.3"/>
<path class="h" d="M192.3,964.0 L331.4,1016.0"/>
<path class="h" d="M165.0,964.0 L335.3,1027.7"/>
<path class="h" d="M142.9,965.3 L336.6,1039.4"/>
<path class="o" d="M340.4,900.0 L338.0,698.4 L392.0,684.0 L399.2,685.2"/>
<path class="t" d="M351.2,900.0 L348.1,704.4 L389.6,691.2 L392.0,693.6 L393.2,729.6"/>
<path class="t" d="M353.6,708.0 L387.2,696.5"/>
<path class="w" d="M369.2,705.6 L401.6,714.0 L401.6,732.0 L371.6,724.8 Z"/>
<path class="t" d="M392.0,711.6 L392.0,729.6"/>
<path class="o" d="M401.6,710.9 L423.2,716.6"/>
<path class="o" d="M444.8,720.0 L484.4,724.8"/>
<path class="o" d="M484.4,724.8 L486.2,983.0"/>
<path class="o" d="M445.0,718.3 C445.9,718.3 455.7,717.1 458.3,717.5 C460.9,717.9 482.4,723.7 484.2,724.2"/>
<path class="w" d="M421.7,706.7 Q421.7,703.3 425,703.3 L441.7,703.3 Q445,703.3 445,706.7 L445,721.7 Q445,724.2 441.7,724.2 L425,724.2 Q421.7,724.2 421.7,721.7 Z"/>
<path class="t" d="M424.2,709.3 L442.5,709.3"/>
<ellipse class="t" cx="455.8" cy="723.3" rx="7.5" ry="3"/>
<path class="t" d="M453.3,722.5 L455.8,724.2 L459.2,722.0"/>
<path class="o" d="M469.2,723.3 C469.2,725.3 470.3,744.3 470.0,746.7 C469.7,749.0 467.2,751.2 465.0,751.7 C462.8,752.2 445.1,752.6 443.3,752.7"/>
<path class="o" d="M440.8,730.0 L440.8,753.3"/>
<path class="t" d="M426.7,730.8 L435.0,731.7 L435.8,756.7"/>
<path class="o" d="M420.0,736.7 C421.4,737.2 426.4,738.3 428.3,740.0 C430.3,741.7 430.8,743.1 431.7,746.7 C432.5,750.3 433.1,759.2 433.3,761.7"/>
<path class="t" d="M436.7,756.7 L444.2,755.0 L445.0,770.0 L438.3,773.3 L433.3,771.7 L433.3,761.7"/>
<path class="t" d="M430.0,773.3 L430.0,780.0"/>
<path class="t" d="M440.8,773.3 C440.8,774.7 441.5,778.9 440.8,781.7 C440.1,784.4 437.9,788.2 436.7,790.0 C435.4,791.8 433.9,792.1 433.3,792.5"/>
<path class="w" d="M354.8,723.6 L425.6,742.8 L430,741.6 L432.8,1004.8 L354,1004 Z" style="stroke:none"/>
<path class="o" d="M354.8,723.6 L425.6,742.8 L430.4,741.6"/>
<path class="o" d="M429.4,742.8 L432.8,1004.8"/>
<path class="t" stroke-dasharray="13 4" d="M354.2,724 L355.6,900"/>
<path class="t" d="M356.0,756.0 L384.8,765.6"/>
<path class="t" d="M356.0,760.8 L384.8,769.9"/>
<path class="t" d="M356.0,788.4 L384.8,798.0"/>
<path class="t" d="M356.0,793.2 L384.8,802.3"/>
<path class="t" d="M356.0,822.0 L384.8,831.6"/>
<path class="t" d="M356.0,826.8 L384.8,835.9"/>
<path class="t" d="M356.0,854.4 L384.8,864.0"/>
<path class="t" d="M356.0,859.2 L384.8,868.3"/>
<path class="o" d="M340.4,880.0 L345.2,1067.2"/>
<path class="t" d="M351.2,880.0 L353.1,1072.0"/>
<path class="t" stroke-dasharray="13 4" d="M355.6,900 L357.8,1069"/>
<path class="t" d="M356.0,887.2 L388.4,898.0"/>
<path class="t" d="M356.0,894.4 L388.4,903.5"/>
<path class="t" d="M356.0,919.6 L388.4,930.4"/>
<path class="t" d="M356.0,926.8 L388.4,935.9"/>
<path class="t" d="M356.0,953.2 L388.4,964.0"/>
<path class="t" d="M356.0,960.4 L388.4,969.5"/>
<path class="t" d="M356.0,983.2 L388.4,994.0"/>
<path class="t" d="M356.0,990.4 L388.4,999.5"/>
<path class="t" d="M356.0,1015.6 L388.4,1026.4"/>
<path class="t" d="M356.0,1022.8 L388.4,1031.9"/>
<path class="o" d="M485.6,983.2 C490.0,984.8 505.5,989.0 512.0,992.8 C518.5,996.6 522.2,1001.4 524.5,1006.0 C526.8,1010.6 527.6,1016.0 525.9,1020.4 C524.2,1024.8 519.9,1029.3 514.4,1032.4 C508.9,1035.5 501.2,1037.9 492.8,1038.9 C484.4,1039.9 474.0,1040.0 464.0,1038.4 C454.0,1036.8 441.9,1032.4 432.8,1029.3 C423.7,1026.2 413.2,1021.3 409.3,1019.7"/>
<path class="o" d="M409.3,1019.7 L410.0,1006.0"/>
<path class="t" d="M410.0,1006.0 C413.8,1007.2 423.8,1010.8 432.8,1013.4 C441.8,1016.1 454.8,1020.6 464.0,1022.1 C473.2,1023.5 480.4,1023.3 488.0,1022.1 C495.6,1020.9 505.1,1017.7 509.6,1014.9 C514.1,1012.1 514.0,1006.9 514.9,1005.3"/>
<path class="o" d="M434.0,989.2 C437.0,988.5 446.2,985.8 452.0,985.1 C457.8,984.4 463.2,985.4 468.8,985.1 C474.4,984.9 482.8,983.9 485.6,983.7"/>
<path class="o" d="M435.2,1009.6 C432.0,1006.9 439.2,1005.0 444.8,1003.6 C450.4,1002.2 461.6,1001.0 468.8,1001.2 C476.0,1001.4 481.2,1003.4 488.0,1004.8 C494.8,1006.2 505.6,1008.2 509.6,1009.6 C513.6,1011.0 513.2,1011.8 512.0,1013.4 C510.8,1015.0 507.2,1017.8 502.4,1019.2 C497.6,1020.6 489.6,1022.0 483.2,1022.1 C476.8,1022.2 472.0,1021.8 464.0,1019.7 C456.0,1017.6 438.4,1012.3 435.2,1009.6 Z"/>
<path class="t" d="M432.8,989.2 L435.2,1009.6"/>
<path class="o" d="M410.0,1024.0 L408.8,1076.8 L432.8,1086.4 L483.2,1105.6 L512.0,1091.2 L512.0,1036.0"/>
<path class="t" d="M432.8,1033.6 L483.2,1052.8 L512.0,1038.9"/>
<path class="o" d="M483.2,1052.8 L483.2,1105.6"/>
<path class="t" d="M411.2,1034.8 L416.0,1035.5 L434.0,1043.9 L416.0,1040.6 L411.2,1039.6 Z"/>
<path class="t" d="M416.0,1035.5 L416.0,1040.6"/>
<path class="t" d="M411.2,1048.0 L416.0,1048.7 L434.0,1057.1 L416.0,1053.8 L411.2,1052.8 Z"/>
<path class="t" d="M416.0,1048.7 L416.0,1053.8"/>
<path class="t" d="M411.2,1061.2 L416.0,1061.9 L434.0,1070.3 L416.0,1067.0 L411.2,1066.0 Z"/>
<path class="t" d="M416.0,1061.9 L416.0,1067.0"/>
<path class="t" d="M411.2,1073.2 L416.0,1073.9 L434.0,1082.3 L416.0,1079.0 L411.2,1078.0 Z"/>
<path class="t" d="M416.0,1073.9 L416.0,1079.0"/>
<path class="o" d="M360.8,1076.8 C361.0,1078.4 360.8,1084.0 362.0,1086.4 C363.2,1088.8 365.8,1090.8 368.0,1091.2 C370.2,1091.6 373.8,1090.7 375.2,1088.8 C376.6,1086.9 376.4,1081.2 376.6,1079.7"/>
<path class="o" d="M440.0,1096.0 C440.2,1097.6 440.0,1103.4 441.2,1105.6 C442.4,1107.8 445.0,1109.0 447.2,1109.2 C449.4,1109.4 453.0,1108.5 454.4,1106.8 C455.8,1105.1 455.6,1100.2 455.8,1098.9"/>
<path class="o" d="M483.7,1105.6 C483.8,1107.0 483.7,1112.2 484.6,1114.0 C485.6,1115.8 487.7,1116.8 489.4,1116.6 C491.2,1116.4 494.2,1115.4 495.2,1112.8 C496.2,1110.2 495.4,1103.2 495.4,1101.3"/>
<path class="o" d="M515.6,1045.6 C517.0,1046.4 522.1,1048.0 524.0,1050.4 C525.9,1052.8 526.9,1056.8 526.9,1060.0 C526.9,1063.2 525.9,1067.2 524.0,1069.6 C522.1,1072.0 517.0,1073.6 515.6,1074.4"/>
<path class="o" d="M345.2,1067.2 L362.0,1077.3 L399.2,1079.7 L409.3,1076.8"/>
</g>

<!-- 90_labels.svg -->
<g id="labels">
<path class="d" style="stroke-width:4.2" transform="translate(400.10,6.60) scale(0.9364,1.0100)" vector-effect="non-scaling-stroke" d="M-1.5,0.3 L11,0.3 L4.5,32.1"/>
<path class="d" style="stroke-width:4.2" transform="translate(474.10,212.90) scale(0.9273,0.9800)" vector-effect="non-scaling-stroke" d="M11,8 L11,6 Q11,0 5.5,0 Q0,0 0,6 L0,24 Q0,30 5.5,30 Q11,30 11,24 L11,19 Q11,13.5 5.5,13.5 Q0,13.5 0,19"/>
<path class="d" style="stroke-width:4.2" transform="translate(45.20,286.90) scale(1.0727,1.0200)" vector-effect="non-scaling-stroke" d="M0,6 Q0,0 5.5,0 Q11,0 11,6 L11,9 Q11,14 4.5,14.2 Q11,14.5 11,20 L11,24 Q11,30 5.5,30 Q0,30 0,24 L0,22"/>
<path class="k" d="M82.0,352.0 L86.4,352.0 L86.4,385.0 L82.0,385.0 L82.0,358.6 L77.9,359.1 L78.2,354.6 Z"/>
<path class="d" style="stroke-width:4.2" transform="translate(98.10,354.10) scale(0.9818,1.0033)" vector-effect="non-scaling-stroke" d="M0,6 Q0,0 5.5,0 Q11,0 11,6 L11,24 Q11,30 5.5,30 Q0,30 0,24 Z"/>
<path class="k" d="M24.8,479.5 L29.2,479.5 L29.2,512.5 L24.8,512.5 L24.8,486.1 L19.8,486.6 L20.1,482.1 Z"/>
<path class="d" style="stroke-width:4.2" transform="translate(490.90,400.10) scale(1.0364,0.9267)" vector-effect="non-scaling-stroke" d="M8.5,32.1 L8.5,-1 L0,22 L13,22"/>
<path class="d" style="stroke-width:4.2" transform="translate(592.90,341.30) scale(1.0364,0.9400)" vector-effect="non-scaling-stroke" d="M0,22 L0,24 Q0,30 5.5,30 Q11,30 11,24 L11,6 Q11,0 5.5,0 Q0,0 0,6 L0,11 Q0,16.5 5.5,16.5 Q11,16.5 11,11"/>
<path class="d" style="stroke-width:4.2" transform="translate(666.10,187.10) scale(0.9273,0.9600)" vector-effect="non-scaling-stroke" d="M5.5,0 C9,0 10.3,3 10.3,7 C10.3,11 9,14 5.5,14 C2,14 0.7,11 0.7,7 C0.7,3 2,0 5.5,0 Z M5.5,14 C9.5,14 11,17.5 11,22 C11,26.5 9.5,30 5.5,30 C1.5,30 0,26.5 0,22 C0,17.5 1.5,14 5.5,14 Z"/>
<path class="d" style="stroke-width:4.2" transform="translate(817.40,679.60) scale(0.9818,0.9767)" vector-effect="non-scaling-stroke" d="M0,8 L0,6 Q0,0 5.5,0 Q11,0 11,6 L11,9 Q11,13 7,18 L0.5,30 L12.5,30"/>
<path class="d" style="stroke-width:4.2" transform="translate(598.30,1103.10) scale(1.1636,0.9600)" vector-effect="non-scaling-stroke" d="M11.5,0 L1.5,0 L0.5,14 Q3,11.5 6,11.5 Q11,11.5 11,17 L11,24 Q11,30 5.5,30 Q0,30 0,24 L0,22"/>
<path class="a" style="stroke-width:3.3" d="M405.0,45.0 L394.7,105.2"/><path class="k" d="M392.3,119.0 L390.5,102.5 L399.5,104.0 Z"/>
<path class="a" style="stroke-width:3.3" d="M405.0,45.0 L452.7,80.2"/><path class="k" d="M464.0,88.5 L448.4,82.7 L453.9,75.3 Z"/>
<path class="a" style="stroke-width:3.3" d="M477.5,249.0 L465.4,306.3"/><path class="k" d="M462.5,320.0 L461.3,303.4 L470.3,305.3 Z"/>
<path class="a" style="stroke-width:3.3" d="M477.5,249.0 L502.1,278.7"/><path class="k" d="M511.0,289.5 L497.3,280.1 L504.3,274.2 Z"/>
<path class="a" style="stroke-width:3.3" d="M60.5,303.0 L133.0,302.5"/><path class="k" d="M147.0,302.4 L131.0,307.1 L131.0,297.9 Z"/>
<path class="a" style="stroke-width:3.3" d="M93.0,386.6 L93.0,464.5"/><path class="k" d="M93.0,478.5 L88.4,462.5 L97.6,462.5 Z"/>
<path class="a" style="stroke-width:3.3" d="M28.5,514.0 L28.5,582.0"/><path class="k" d="M28.5,596.0 L23.9,580.0 L33.1,580.0 Z"/>
<path class="a" style="stroke-width:3.3" d="M498.4,432.0 L498.4,473.5"/><path class="k" d="M498.4,487.5 L493.8,471.5 L503.0,471.5 Z"/>
<path class="a" style="stroke-width:3.3" d="M598.6,375.0 L598.6,439.0"/><path class="k" d="M598.6,453.0 L594.0,437.0 L603.2,437.0 Z"/>
<path class="a" style="stroke-width:3.3" d="M668.8,220.7 L668.8,290.0"/><path class="k" d="M668.8,304.0 L664.2,288.0 L673.4,288.0 Z"/>
<path class="a" style="stroke-width:3.3" d="M823.4,716.5 L826.4,786.5"/><path class="k" d="M827.0,800.5 L821.7,784.7 L830.9,784.3 Z"/>
<path class="a" style="stroke-width:3.3" d="M606.2,1096.0 L608.4,1017.5"/><path class="k" d="M608.8,1003.5 L612.9,1019.6 L603.8,1019.4 Z"/>
</g>

</svg>
</body></html>
